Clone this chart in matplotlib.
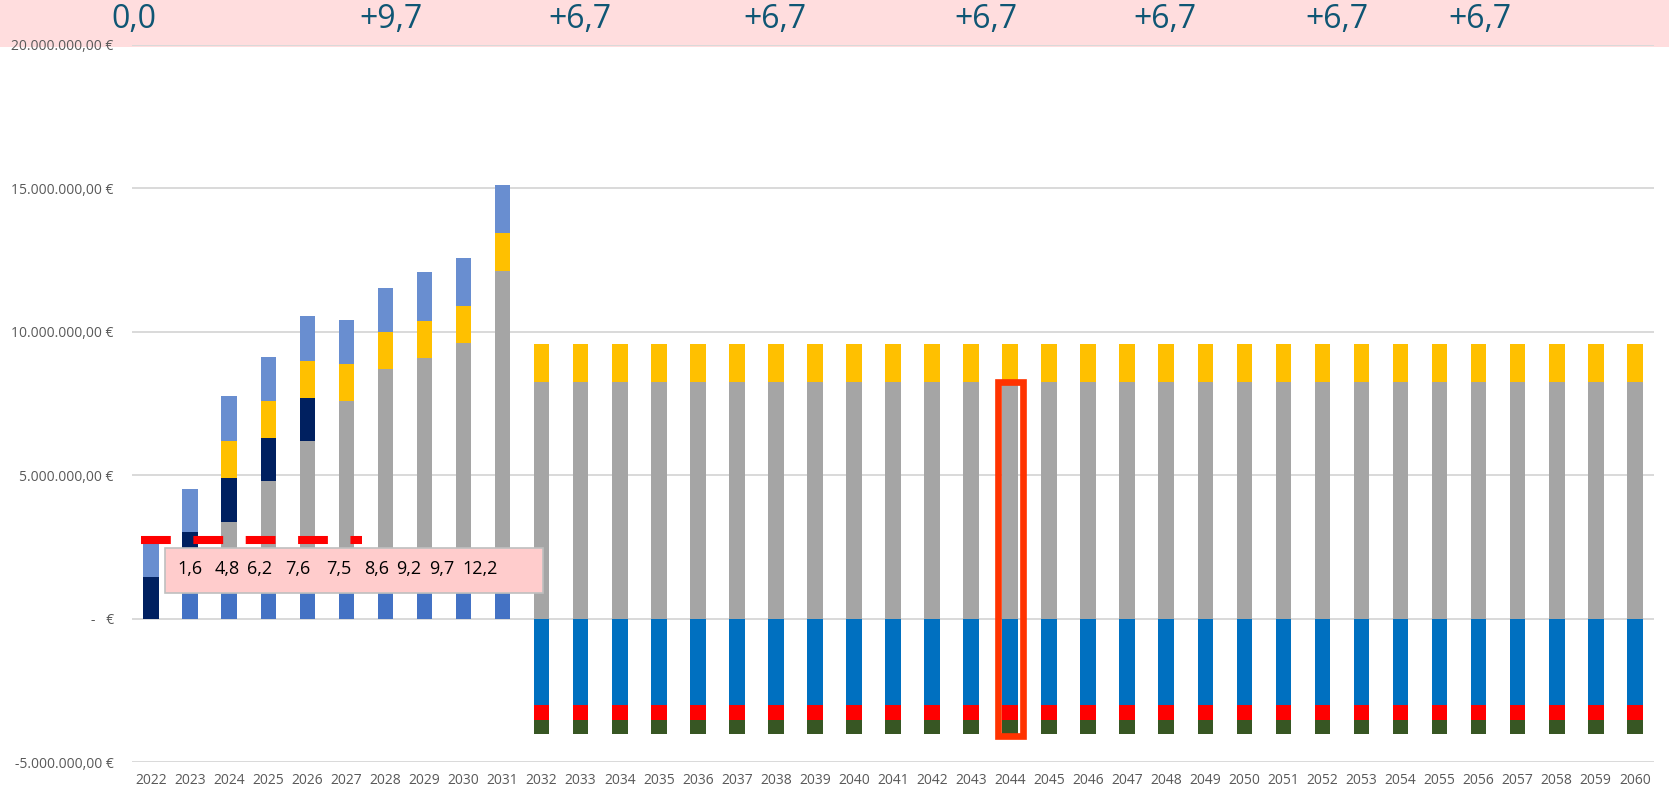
import numpy as np
import matplotlib.pyplot as plt
import matplotlib.patches as mpatches
from matplotlib.ticker import FuncFormatter

plt.rcParams['font.family'] = ['Open Sans', 'DejaVu Sans']

# data (million EUR), years 2022..2060
years = list(range(2022, 2061))
n_late = 29  # 2032..2060 all identical

blue_base = [0.0] + [1.5] * 9 + [0.0] * n_late
grey = [0.0, 0.0, 1.89, 3.3, 4.7, 6.1, 7.2, 7.59, 8.1, 10.64] + [8.27] * n_late
navy = [1.47, 1.51, 1.51, 1.5, 1.49, 0.0, 0.0, 0.0, 0.0, 0.0] + [0.0] * n_late
yellow = [0.0, 0.0, 1.3, 1.3, 1.31, 1.29, 1.29, 1.3, 1.29, 1.31] + [1.31] * n_late
light_blue = [1.43, 1.52, 1.55, 1.53, 1.54, 1.54, 1.54, 1.7, 1.69, 1.68] + [0.0] * n_late

neg_blue = [0.0] * 10 + [-3.0] * n_late
neg_red = [0.0] * 10 + [-0.52] * n_late
neg_green = [0.0] * 10 + [-0.50] * n_late

threshold_value = 2.76
threshold_years = (2022, 2027)

highlight_year = 2044

box_labels = ['1,6', '4,8', '6,2', '7,6', '7,5', '8,6', '9,2', '9,7', '12,2']
box_label_px = [190, 227, 260, 298, 339, 377, 409, 442, 480]

band_labels = ['0,0', '+9,7', '+6,7', '+6,7', '+6,7', '+6,7', '+6,7', '+6,7']
band_label_px = [134, 391, 580, 775, 986, 1165, 1337, 1480]

W, H = 1669, 795
fig = plt.figure(figsize=(W / 100, H / 100), dpi=100)
fig.patch.set_facecolor('white')
ax = fig.add_axes([131.7 / W, 1 - 762.3 / H, (1654.3 - 131.7) / W, (762.3 - 45) / H])
ax.set_facecolor('none')

x = np.arange(len(years))
bw = 0.40
M = 1e6

# positive stack
bottom = np.zeros(len(years))
for vals, col in [(blue_base, '#4472C4'), (grey, '#A5A5A5'), (navy, '#002060'),
                  (yellow, '#FFC000'), (light_blue, '#698ED0')]:
    v = np.array(vals) * M
    ax.bar(x, v, bw, bottom=bottom, color=col, zorder=2, linewidth=0)
    bottom += v

# negative stack
bottom = np.zeros(len(years))
for vals, col in [(neg_blue, '#0070C0'), (neg_red, '#FF0000'), (neg_green, '#375623')]:
    v = np.array(vals) * M
    ax.bar(x, v, bw, bottom=bottom, color=col, zorder=2, linewidth=0)
    bottom += v

# red dashed threshold over the first years
i0 = years.index(threshold_years[0])
i1 = years.index(threshold_years[1])
ax.plot([i0 - 0.26, i1 + 0.41], [threshold_value * M] * 2, color='#FF0000',
        linewidth=5.8, linestyle=(0, (3.7, 2.8)), dash_capstyle='butt', zorder=4)

# highlight frame around one year
ih = years.index(highlight_year)
top_h = (blue_base[ih] + grey[ih]) * M
bot_h = (neg_blue[ih] + neg_red[ih] + neg_green[ih]) * M - 0.05 * M
ax.add_patch(mpatches.Rectangle((ih - 0.32, bot_h), 0.64, top_h - bot_h, fill=False,
                                edgecolor='#FF3300', linewidth=4.8, zorder=6))

ax.set_xlim(-0.5, len(years) - 0.5)
ax.set_ylim(-5 * M, 20 * M)
ax.set_yticks(np.arange(-5, 21, 5) * M)


def eur(v, pos):
    if abs(v) < 1:
        return '-   €'
    s = f'{v:,.2f}'.replace(',', 'X').replace('.', ',').replace('X', '.')
    return s + ' €'


ax.yaxis.set_major_formatter(FuncFormatter(eur))
ax.set_xticks(x)
ax.set_xticklabels([str(y) for y in years])
ax.tick_params(axis='both', length=0, labelsize=10, labelcolor='#595959')
ax.tick_params(axis='y', pad=13)
ax.tick_params(axis='x', pad=8)
ax.grid(axis='y', color='#D9D9D9', linewidth=1.4, zorder=1)
ax.set_axisbelow(True)
for s in ax.spines.values():
    s.set_visible(False)

# pink band on top
fig.add_artist(mpatches.Rectangle((0, 1 - 46.7 / H), 1, 46.7 / H, transform=fig.transFigure,
                                  facecolor='#FFDDDE', edgecolor='none', zorder=-1))
for lab, px in zip(band_labels, band_label_px):
    fig.text(px / W, 1 - 20 / H, lab, ha='center', va='center', fontsize=23, color='#0F5674')

# pink text box over the early bars
fig.add_artist(mpatches.Rectangle((165 / W, 1 - 593.3 / H), (543 - 165) / W, 45 / H,
                                  transform=fig.transFigure, facecolor='#FFCCCC',
                                  edgecolor='#BFBFBF', linewidth=1.2, zorder=5))
for lab, px in zip(box_labels, box_label_px):
    fig.text(px / W, 1 - 569.5 / H, lab, ha='center', va='center', fontsize=13,
             color='black', zorder=6)

plt.savefig('out.png', dpi=100)
plt.close()
